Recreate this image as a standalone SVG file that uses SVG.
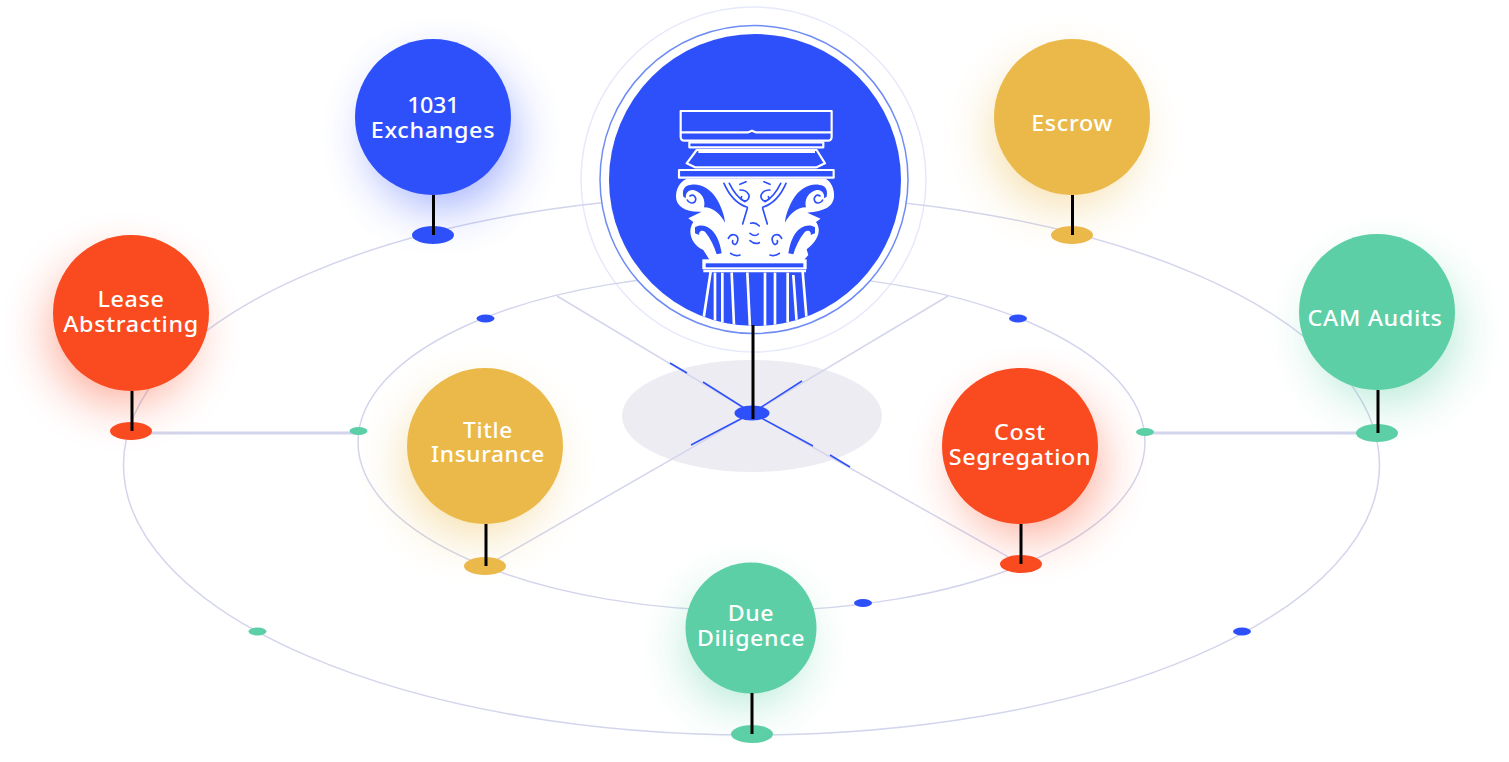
<svg xmlns="http://www.w3.org/2000/svg" width="1509" height="762" viewBox="0 0 1509 762">
<style>
.ln{fill:none;stroke:#d3d5ec;stroke-width:1.5}
.bl{fill:none;stroke:#2e50fb;stroke-width:1.5}
.pin{stroke:#000;stroke-width:3}
.t{font-family:"Noto Sans","DejaVu Sans",sans-serif;font-size:21px;font-weight:500;fill:#fff;text-anchor:middle;letter-spacing:.6px}
.B{fill:#2e50fb}.O{fill:#f94a20}.Y{fill:#ebb94a}.G{fill:#5ccfa6}
.w{fill:#fff}.sw{fill:none;stroke:#fff;stroke-width:6.500;stroke-linejoin:round}.sb{fill:none;stroke:#2e50fb;stroke-width:5;stroke-linecap:round}.fl{fill:none;stroke:#fff;stroke-width:8}
.gl{filter:url(#g);opacity:.48}
</style>
<defs>
<filter id="g" x="-80%" y="-80%" width="260%" height="260%"><feGaussianBlur stdDeviation="25"/></filter>
<clipPath id="cc"><circle cx="285" cy="270" r="438"/></clipPath>
<g id="half">
<path class="B" d="M80 288C110 275 150 290 172 330C186 355 194 380 195 398C183 375 160 352 132 352C138 330 125 305 100 300C85 298 75 310 78 325L70 320C67 305 70 294 80 288Z"/>
<path class="sb" d="M90 318C100 310 112 322 105 335C98 343 85 338 82 330"/>
<path class="B" d="M105 412C125 398 155 410 170 440C178 455 183 475 185 490L170 493C163 470 152 445 135 425C125 418 115 425 118 435L105 430Z"/>
<path class="sb" d="M192 280C205 310 225 340 262 352M208 280C220 305 235 325 255 335M262 355L248 402M240 300C265 300 275 320 260 332C250 335 240 328 245 320M240 283L258 275M205 445C215 425 240 435 232 455C228 470 215 462 218 452M212 490Q225 500 240 495"/>
</g>
</defs>
<rect width="1509" height="762" fill="#fff"/>
<ellipse cx="752" cy="416" rx="130" ry="56" fill="#edecf2"/>
<circle cx="753.500" cy="179.500" r="172.500" fill="none" stroke="#e6e9fb" stroke-width="1.500"/>
<g id="connectors">
<ellipse class="ln" cx="751.500" cy="465" rx="628" ry="270"/>
<ellipse class="ln" cx="751.500" cy="442" rx="393.500" ry="169"/>
<path class="ln" d="M557 296L752 413L948 296M486 566L752 413L1021 564"/>
<path d="M150 433H358M1145 433H1357" fill="none" stroke="#d3d5ec" stroke-width="3"/>
<path class="bl" d="M670 363L687 373M703 382L752 413L802 381M752 413L691 445M752 413L813 446M830 455L850 467"/>
</g>
<g id="hub">
<circle cx="754" cy="179.500" r="154" fill="#fff" stroke="#6f8cf5" stroke-width="1.500"/>
<circle class="B" cx="755" cy="180" r="146"/>
<g transform="translate(660 90) scale(.3333)" clip-path="url(#cc)">
<path class="sw" d="M62 63H515V140Q515 152 503 152H74Q62 152 62 140ZM62 127H265L276 122L287 127H515"/>
<path class="sw" d="M88 157H490V172H88ZM110 180H470L495 220L470 232H105L80 220ZM115 186H465"/>
<rect x="57" y="240" width="464" height="23" class="sw"/>
<path class="w" d="M80 266H497C515 275 524 300 522 322C518 350 495 364 442 368L482 386L468 396C482 415 482 445 440 478L445 495L430 512H150L130 480C95 465 80 425 100 396L85 385L125 365C80 368 48 350 48 320C48 295 60 275 80 266Z"/>
<use href="#half"/>
<use href="#half" transform="translate(570 0) scale(-1 1)"/>
<path class="sb" d="M272 400Q285 395 298 408M270 430Q285 442 295 432M270 452Q285 465 298 458"/>
<rect x="127" y="508" width="313" height="30" class="w"/>
<rect x="137" y="520" width="293" height="12" class="B"/>
<path class="fl" d="M130 543H438M152 545L130 690M165 548V695M187 548V700M215 548L222 705M262 548L270 715M315 548L315 715M345 548V705M383 548V700M400 555L410 695M428 545L440 690"/>
</g>
<ellipse class="B" cx="752" cy="413" rx="17.500" ry="7.500"/>
<rect x="751.500" y="325" width="3" height="94"/>
</g>
<g id="n1031"><circle class="B gl" cx="442" cy="136" r="70"/><circle class="B" cx="433" cy="117" r="78"/><ellipse class="B" cx="433" cy="235" rx="21" ry="9"/><path class="pin" d="M433.500 195V235"/><text class="t" transform="translate(433 113) scale(1.11 1)"><tspan x="0" letter-spacing="-.4">1031</tspan><tspan x="0" dy="25">Exchanges</tspan></text></g>
<g id="nEscrow"><circle class="Y gl" cx="1063" cy="136" r="70"/><circle class="Y" cx="1072" cy="117" r="78"/><ellipse class="Y" cx="1072" cy="235" rx="21" ry="9"/><path class="pin" d="M1072.500 195V235"/><text class="t" transform="translate(1072 131) scale(1.11 1)">Escrow</text></g>
<g id="nLease"><circle class="O gl" cx="122" cy="332" r="70"/><circle class="O" cx="131" cy="313" r="78"/><ellipse class="O" cx="131" cy="431" rx="21" ry="9"/><path class="pin" d="M132 391V431"/><text class="t" transform="translate(131 307) scale(1.11 1)"><tspan x="0">Lease</tspan><tspan x="0" dy="25">Abstracting</tspan></text></g>
<g id="nCAM"><circle class="G gl" cx="1386" cy="331" r="70"/><circle class="G" cx="1377" cy="312" r="78"/><ellipse class="G" cx="1377" cy="433" rx="21" ry="9"/><path class="pin" d="M1378 390V433"/><text class="t" transform="translate(1375 326) scale(1.11 1)">CAM Audits</text></g>
<g id="nTitle"><circle class="Y gl" cx="476" cy="465" r="70"/><circle class="Y" cx="485" cy="446" r="78"/><ellipse class="Y" cx="485" cy="566" rx="21" ry="9"/><path class="pin" d="M486 524V566"/><text class="t" transform="translate(488 438) scale(1.08 1)"><tspan x="0">Title</tspan><tspan x="0" dy="24.500">Insurance</tspan></text></g>
<g id="nCost"><circle class="O gl" cx="1029" cy="465" r="70"/><circle class="O" cx="1020" cy="446" r="78"/><ellipse class="O" cx="1021" cy="564" rx="21" ry="9"/><path class="pin" d="M1021 524V564"/><text class="t" transform="translate(1020 440) scale(1.11 1)"><tspan x="0">Cost</tspan><tspan x="0" dy="25">Segregation</tspan></text></g>
<g id="nDue"><circle class="G gl" cx="745" cy="646" r="58"/><circle class="G" cx="751" cy="628" r="65.500"/><ellipse class="G" cx="752" cy="734" rx="21" ry="9"/><path class="pin" d="M752 693V734"/><text class="t" transform="translate(751 621) scale(1.1 1)"><tspan x="0">Due</tspan><tspan x="0" dy="25">Diligence</tspan></text></g>
<g id="dots">
<ellipse class="B" cx="485.500" cy="318.500" rx="9" ry="4"/><ellipse class="B" cx="1018" cy="318.500" rx="9" ry="4"/>
<ellipse class="G" cx="358.500" cy="431" rx="9" ry="4"/><ellipse class="G" cx="1145" cy="432" rx="9" ry="4"/>
<ellipse class="B" cx="863" cy="603" rx="9" ry="4"/><ellipse class="G" cx="257.500" cy="631.500" rx="9" ry="4"/><ellipse class="B" cx="1242" cy="631.500" rx="9" ry="4"/>
</g>
</svg>
